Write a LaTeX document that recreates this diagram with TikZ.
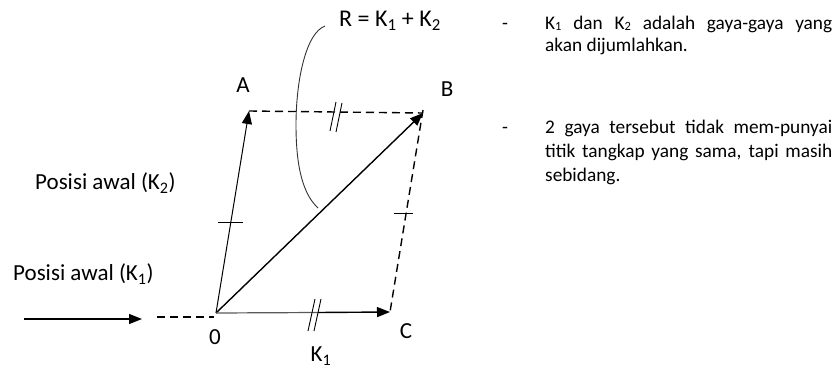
\documentclass[tikz,border=0pt]{standalone}
\usepackage{fontspec}
\setmainfont{Carlito}
\usetikzlibrary{arrows.meta}
\newcommand{\smsub}[1]{\raisebox{-1.2pt}{\fontsize{12.5}{12.5}\selectfont #1}}
\newcommand{\jline}[1]{\makebox[287pt][s]{#1}}
\tikzset{
  tip/.style={-{Triangle[length=13pt,width=10pt]}},
  dashline/.style={dashed, dash pattern=on 8pt off 5pt, line width=1.4pt},
  tickline/.style={line width=0.9pt},
  lbl/.style={font=\fontsize{23}{26}\selectfont, inner sep=0pt},
  biglbl/.style={font=\fontsize{24}{28}\selectfont, inner sep=0pt},
  txt/.style={font=\fontsize{19.3}{23}\selectfont, inner sep=0pt, anchor=base west},
}
\begin{document}
\begin{tikzpicture}[x=1pt,y=-1pt]
\useasboundingbox (0,0) rectangle (835,369);
% points
\coordinate (O) at (216,313);
\coordinate (A) at (249,111);
\coordinate (B) at (423,113);
\coordinate (C) at (390,312);
\coordinate (M) at (318,312.5);
\coordinate (L1) at (24,319);
\coordinate (L2) at (142,319);
\coordinate (D1) at (157,317);
\coordinate (D2) at (214,317);
% left incoming arrow and dashed extension
\draw[line width=1.4pt, tip] (L1) -- (L2);
\draw[dashline] (D1) -- (D2);
% parallelogram
\draw[line width=1pt, tip] (O) -- (A);
\draw[line width=1.4pt, tip] (O) -- (B);
\draw[line width=1.2pt, gray!70!black] (O) -- (M);
\draw[line width=1.4pt, tip] (M) -- (C);
\draw[dashline] (A) -- (B);
\draw[dashline] ([yshift=3pt]B) -- (C);
% ticks
\draw[tickline] (218,222) -- (243,222);
\draw[tickline] (394,213) -- (413,213);
\draw[tickline] (330,131) -- (336,102);
\draw[tickline] (336,132) -- (342,103);
\draw[tickline] (308,331) -- (315,299);
\draw[tickline] (314,331) -- (321,299);
% curve to resultant
\coordinate (Rs) at (325,26);
\coordinate (Re) at (318,208);
\draw[line width=0.9pt, black!80] (Rs) .. controls (306,33) and (296,80) .. (296,125) .. controls (296,170) and (304,195) .. (Re);
% labels
\node[biglbl] (R) at (390,21) {R = K\textsubscript{1} + K\textsubscript{2}};
\node[lbl] (nA) at (243,85) {A};
\node[lbl] (nB) at (447,89) {B};
\node[lbl] (nO) at (215,337) {0};
\node[lbl] (nC) at (406,331) {C};
\node[lbl] (nK) at (321,356) {K\textsubscript{1}};
\node[lbl, anchor=west] (p2) at (35,183) {Posisi awal (K\textsubscript{2})};
\node[lbl, anchor=west] (p1) at (13,274) {Posisi awal (K\textsubscript{1})};
% right text
\node[txt] (d1) at (502,29.5) {-};
\node[txt] (d2) at (502,133.5) {-};
\node[txt] (t1a) at (545,29.5) {\jline{K\smsub{1} dan K\smsub{2} adalah gaya-gaya yang}};
\node[txt] (t1b) at (545,52) {akan dijumlahkan.};
\node[txt] (t2a) at (545,133.5) {\jline{2 gaya tersebut tidak mem-punyai}};
\node[txt] (t2b) at (545,157.5) {\jline{titik tangkap yang sama, tapi masih}};
\node[txt] (t2c) at (545,181.5) {sebidang.};
\end{tikzpicture}
\end{document}
